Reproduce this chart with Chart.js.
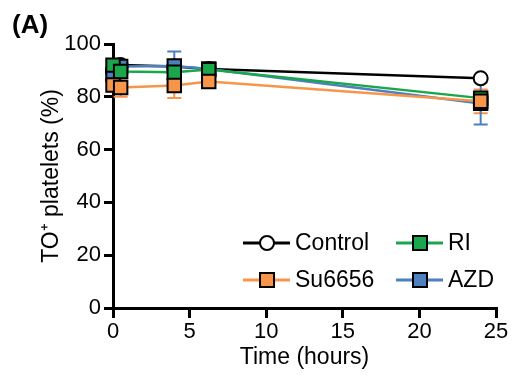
<!DOCTYPE html>
<html>
<head>
<meta charset="utf-8">
<script src="https://cdn.jsdelivr.net/npm/chart.js@4"></script>
<style>
  body { margin: 0; background: #fff; }
  #wrap { position: relative; width: 514px; height: 375px; }
  #panel { position: absolute; left: 12px; top: 9px; font: bold 26px "Liberation Sans", Arial, sans-serif; line-height: 30px; }
</style>
</head>
<body>
<div id="wrap">
  <canvas id="toChart" width="514" height="375"></canvas>
  <div id="panel">(A)</div>
</div>
<script>
// time points (hours)
const times = [0, 0.5, 4, 6.25, 24];

// TO+ platelets (%)
const control = [89.5, 92, 91.5, 90.5, 87];
const ri = [92, 89.6, 89.3, 90.3, 79.5];
const su6656 = [84.5, 83.5, 84.3, 85.8, 78.3];
const azd = [88.5, 91.5, 91.7, 90.5, 77.5];

// error (+/-)
const controlErr = [0, 0, 0, 0, 0];
const riErr = [1.5, 1.5, 1.5, 1, 1.5];
const suErr = [2.5, 3.5, 4.8, 2.5, 4.5];
const azdErr = [2, 2, 5.5, 1.5, 8];

const font = "'Liberation Sans', Arial, sans-serif";

function pts(vals) {
  return times.map((t, i) => ({ x: t, y: vals[i] }));
}

const series = [
  { label: 'Control', vals: control, err: controlErr, color: '#000000', fill: '#ffffff', style: 'circle', order: 4 },
  { label: 'RI', vals: ri, err: riErr, color: '#1aa64b', fill: '#1aa64b', style: 'rect', order: 2 },
  { label: 'Su6656', vals: su6656, err: suErr, color: '#f7954a', fill: '#f7954a', style: 'rect', order: 1 },
  { label: 'AZD', vals: azd, err: azdErr, color: '#4e7fbe', fill: '#4e7fbe', style: 'rect', order: 3 }
];

const errorBars = {
  id: 'errorBars',
  beforeDatasetsDraw(chart) {
    const ctx = chart.ctx;
    const xs = chart.scales.x, ys = chart.scales.y;
    ctx.save();
    series.forEach(s => {
      ctx.strokeStyle = s.color;
      ctx.lineWidth = 2;
      s.vals.forEach((v, i) => {
        if (!s.err[i]) return;
        const x = xs.getPixelForValue(times[i]);
        const y1 = ys.getPixelForValue(v - s.err[i]);
        const y2 = ys.getPixelForValue(v + s.err[i]);
        ctx.beginPath();
        ctx.moveTo(x, y1); ctx.lineTo(x, y2);
        ctx.moveTo(x - 7, y1); ctx.lineTo(x + 7, y1);
        ctx.moveTo(x - 7, y2); ctx.lineTo(x + 7, y2);
        ctx.stroke();
      });
    });
    ctx.restore();
  }
};

const legendBox = {
  id: 'legendBox',
  afterDraw(chart) {
    const ctx = chart.ctx;
    const a = chart.chartArea;
    const cols = [a.left + 130, a.left + 283];
    const rows = [a.top + 199, a.top + 236];
    ctx.save();
    ctx.font = '23px ' + font;
    ctx.textBaseline = 'middle';
    series.forEach((s, i) => {
      const x = cols[i % 2], y = rows[Math.floor(i / 2)];
      ctx.strokeStyle = s.color;
      ctx.lineWidth = 3;
      ctx.beginPath();
      ctx.moveTo(x, y); ctx.lineTo(x + 47, y);
      ctx.stroke();
      ctx.fillStyle = s.fill;
      ctx.strokeStyle = '#000';
      ctx.lineWidth = 2;
      ctx.beginPath();
      if (s.style === 'circle') ctx.arc(x + 24, y, 7, 0, Math.PI * 2);
      else ctx.rect(x + 17, y - 7, 14, 14);
      ctx.fill(); ctx.stroke();
      ctx.fillStyle = '#000';
      ctx.fillText(s.label, x + 52, y + 1);
    });
    ctx.restore();
  }
};

new Chart(document.getElementById('toChart').getContext('2d'), {
  type: 'line',
  data: {
    datasets: series.map(s => ({
      label: s.label,
      data: pts(s.vals),
      borderColor: s.color,
      borderWidth: 2.5,
      backgroundColor: s.fill,
      pointStyle: s.style,
      pointRadius: s.style === 'circle' ? 7 : 9.5,
      pointBorderColor: '#000',
      pointBorderWidth: 2,
      pointBackgroundColor: s.fill,
      order: s.order,
      clip: false,
      tension: 0
    }))
  },
  options: {
    responsive: false,
    animation: false,
    layout: { padding: { top: 44, right: 18, left: 0, bottom: 0 } },
    plugins: {
      legend: { display: false },
      tooltip: { enabled: false }
    },
    scales: {
      x: {
        type: 'linear',
        min: 0, max: 25,
        ticks: { stepSize: 5, color: '#000', font: { family: font, size: 22 }, padding: 1, maxRotation: 0 },
        grid: { drawOnChartArea: false, color: '#000', lineWidth: 3, tickLength: 10 },
        border: { color: '#000', width: 3 },
        title: { display: true, text: 'Time (hours)', color: '#000', font: { family: font, size: 23 }, padding: { top: -6 } },
        afterFit(scale) { scale.height = 67; }
      },
      y: {
        min: 0, max: 100,
        ticks: { stepSize: 20, color: '#000', font: { family: font, size: 22 }, padding: 3 },
        grid: { drawOnChartArea: false, color: '#000', lineWidth: 3, tickLength: 9 },
        border: { color: '#000', width: 3 },
        title: { display: true, text: 'TO\u207A platelets (%)', color: '#000', font: { family: font, size: 23 }, padding: { top: 38, bottom: 0 } },
        afterFit(scale) { scale.width = 113; }
      }
    }
  },
  plugins: [errorBars, legendBox]
});
</script>
</body>
</html>
